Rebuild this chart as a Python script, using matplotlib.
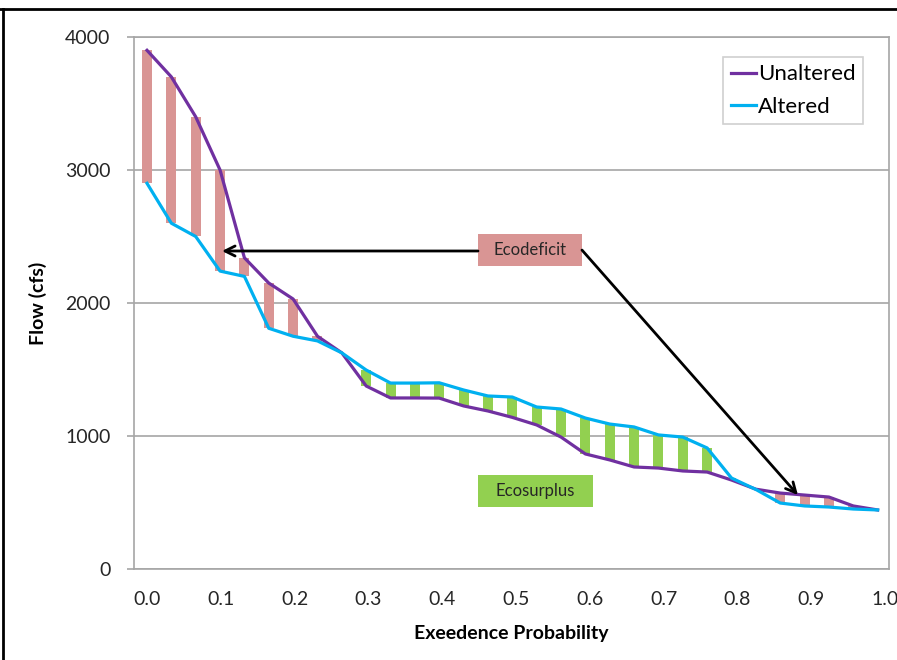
import numpy as np
import matplotlib
matplotlib.use('Agg')
import matplotlib.pyplot as plt
from matplotlib.patches import Rectangle
from matplotlib.lines import Line2D

plt.rcParams['font.family'] = ['Lato', 'DejaVu Sans']

# exceedance probability of each ranked flow (31 values)
prob = [0.000, 0.033, 0.066, 0.099, 0.132, 0.165, 0.198, 0.231, 0.264, 0.297,
        0.330, 0.363, 0.396, 0.429, 0.462, 0.495, 0.528, 0.561, 0.594, 0.627,
        0.660, 0.693, 0.726, 0.759, 0.792, 0.825, 0.858, 0.891, 0.924, 0.957, 0.990]

unaltered = [3900, 3700, 3400, 3000, 2340, 2150, 2030, 1750, 1625, 1376,
             1286, 1286, 1285, 1226, 1188, 1140, 1083, 992, 865, 820,
             767, 759, 737, 729, 669, 600, 571, 556, 541, 474, 444]

altered = [2900, 2600, 2500, 2240, 2200, 1810, 1750, 1715, 1625, 1496,
           1398, 1398, 1400, 1346, 1301, 1293, 1218, 1203, 1135, 1090,
           1068, 1008, 992, 910, 684, 598, 496, 474, 466, 451, 444]

purple = '#7030A0'
blue = '#00B0F0'
pink = '#D99594'
green = '#92D050'

x = np.array(prob)
u = np.array(unaltered)
a = np.array(altered)

fig = plt.figure(figsize=(8.97, 6.6), dpi=100)
ax = fig.add_axes([134/897, 1 - 569/660, 755/897, 532/660])

# ecodeficit (pink) / ecosurplus (green) bars between the two curves
deficit = u > a
surplus = a > u
ax.bar(x[deficit], (u - a)[deficit], bottom=a[deficit], width=0.0135, color=pink, zorder=2)
ax.bar(x[surplus], (a - u)[surplus], bottom=u[surplus], width=0.0135, color=green, zorder=2)

ax.plot(x, u, color=purple, lw=2.3, label='Unaltered', zorder=3)
ax.plot(x, a, color=blue, lw=2.3, label='Altered', zorder=3)

ax.set_xlim(-0.0176, 1.0054)
ax.set_ylim(0, 4000)
ticks = np.arange(0, 1.01, 0.1)
ax.set_xticks(ticks)
ax.set_xticklabels(['%.1f' % t for t in ticks])
ax.set_yticks([0, 1000, 2000, 3000, 4000])
ax.tick_params(axis='both', labelsize=14, colors='#A6A6A6', labelcolor='#262626', width=1.2)
ax.tick_params(axis='x', length=0, pad=16)
ax.tick_params(axis='y', length=5, pad=12)
ax.grid(axis='y', color='#A6A6A6', lw=1.2, zorder=0)
for s in ax.spines.values():
    s.set_color('#A6A6A6')
    s.set_linewidth(1.2)

ax.set_xlabel('Exeedence Probability', fontsize=14, fontweight='bold', labelpad=12)
ax.set_ylabel('Flow (cfs)', fontsize=14, fontweight='bold', labelpad=13)

leg = ax.legend(loc='upper right', bbox_to_anchor=(0.966, 0.963), borderaxespad=0,
                fontsize=16, handlelength=1.1, handletextpad=0.1, fancybox=False,
                framealpha=1, edgecolor='#D0D0D0', borderpad=0.35, labelspacing=0.55)
leg.get_frame().set_linewidth(1.2)

# label boxes
ax.add_patch(Rectangle((0.4485, 2278), 0.141, 241, facecolor=pink, edgecolor='none', zorder=4))
ax.text(0.519, 2396, 'Ecodeficit', fontsize=12, ha='center', va='center', color='#262626', zorder=5)
ax.add_patch(Rectangle((0.4485, 466), 0.156, 241, facecolor=green, edgecolor='none', zorder=4))
ax.text(0.526, 584, 'Ecosurplus', fontsize=12, ha='center', va='center', color='#262626', zorder=5)

arrow = dict(arrowstyle='->', color='black', lw=2, mutation_scale=18, shrinkA=0, shrinkB=0)
ax.annotate('', xy=(0.1016, 2391), xytext=(0.4485, 2391), arrowprops=arrow, zorder=5)
ax.annotate('', xy=(0.882, 556), xytext=(0.5894, 2398), arrowprops=arrow, zorder=5)

# frame lines of the original image
fig.add_artist(Line2D([0, 1], [1 - 9/660, 1 - 9/660], color='black', lw=2))
fig.add_artist(Line2D([3/897, 3/897], [0, 1 - 9/660], color='black', lw=2))

fig.savefig('out.png', dpi=100)
